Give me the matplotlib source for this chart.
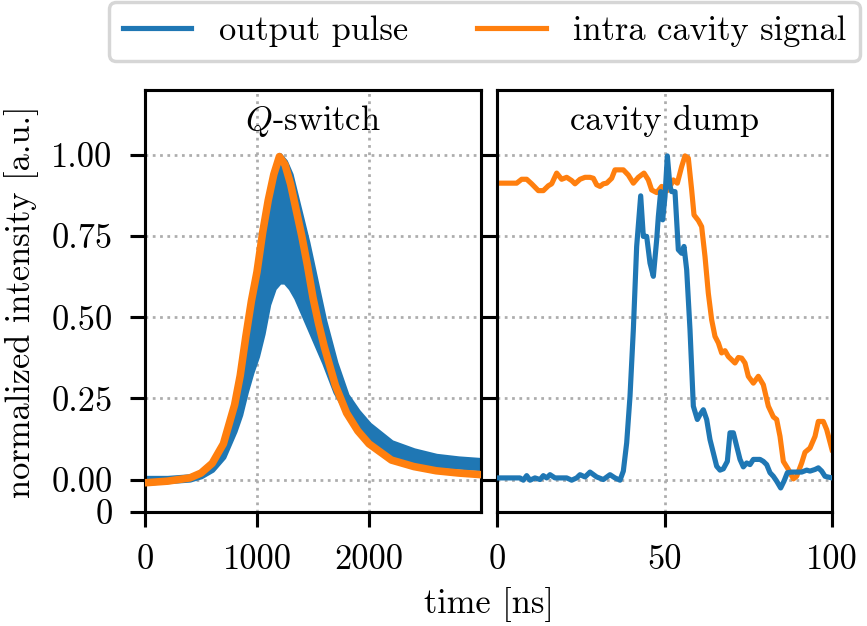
import matplotlib
matplotlib.use("Agg")
import matplotlib.pyplot as plt

# ---------------- data ----------------
# Q-switch panel (time in ns)
t_q = [0, 200, 400, 500, 600, 700, 800, 850, 900, 950, 1000, 1050, 1100, 1150,
       1200, 1250, 1300, 1350, 1400, 1450, 1500, 1550, 1600, 1700, 1800, 1900,
       2000, 2200, 2400, 2600, 2800, 3000]
# output pulse (fast ripple band): upper and lower envelope
q_out_upper = [0.005, 0.005, 0.01, 0.02, 0.04, 0.09, 0.19, 0.27, 0.38, 0.49, 0.60,
               0.73, 0.85, 0.95, 1.00, 0.98, 0.94, 0.87, 0.80, 0.73, 0.65, 0.57,
               0.49, 0.36, 0.26, 0.21, 0.17, 0.115, 0.09, 0.073, 0.065, 0.06]
q_out_lower = [-0.01, -0.005, 0.0, 0.01, 0.03, 0.07, 0.15, 0.20, 0.27, 0.33, 0.38,
               0.45, 0.54, 0.59, 0.61, 0.61, 0.59, 0.56, 0.52, 0.48, 0.44, 0.40,
               0.36, 0.27, 0.21, 0.16, 0.125, 0.075, 0.055, 0.045, 0.04, 0.035]
# intra cavity signal
q_intra = [-0.01, -0.005, 0.005, 0.02, 0.05, 0.11, 0.23, 0.32, 0.44, 0.55, 0.64,
           0.76, 0.86, 0.94, 0.995, 0.97, 0.91, 0.83, 0.75, 0.66, 0.56, 0.48,
           0.41, 0.29, 0.205, 0.15, 0.11, 0.06, 0.04, 0.027, 0.02, 0.015]

# cavity dump panel
t_cd_intra = [0, 5.87, 7.36, 8.86, 10.35, 12.34, 13.83, 15.32, 16.32, 17.81, 19.30,
              20.80, 22.29, 23.28, 24.78, 26.27, 27.76, 28.76, 29.75, 30.75, 31.74,
              32.74, 34.23, 35.22, 37.71, 39.20, 40.70, 42.19, 43.88, 45.17, 46.17,
              47.66, 49.15, 50.15, 51.14, 52.64, 53.83, 55.12, 56.12, 57.11, 58.11,
              58.81, 60.10, 61.09, 62.09, 63.08, 64.08, 65.07, 66.07, 67.06, 68.06,
              69.05, 70.05, 71.04, 72.04, 73.03, 74.03, 75.02, 76.52, 78.01, 79.50,
              81.00, 82.49, 83.48, 84.48, 85.47, 86.97, 88.46, 89.45, 90.95, 91.94,
              93.43, 94.93, 95.92, 97.41, 98.41, 100.0]
cd_intra = [0.913, 0.913, 0.925, 0.925, 0.911, 0.890, 0.890, 0.905, 0.911, 0.944, 0.925,
            0.931, 0.921, 0.911, 0.925, 0.931, 0.931, 0.928, 0.908, 0.903, 0.911,
            0.913, 0.928, 0.954, 0.954, 0.938, 0.913, 0.931, 0.944, 0.923, 0.892,
            0.884, 0.903, 0.887, 0.892, 0.923, 0.913, 0.964, 0.997, 0.990, 0.892,
            0.815, 0.798, 0.779, 0.687, 0.574, 0.492, 0.441, 0.421, 0.390, 0.397,
            0.379, 0.369, 0.359, 0.376, 0.374, 0.359, 0.318, 0.297, 0.318, 0.292,
            0.226, 0.193, 0.185, 0.133, 0.056, 0.031, 0.002, 0.010, 0.051, 0.084,
            0.097, 0.133, 0.179, 0.179, 0.154, 0.092]

t_cd_out = [0, 6.87, 7.86, 8.86, 9.85, 11.34, 12.84, 13.83, 14.83, 15.82, 17.31,
            20.80, 22.29, 23.78, 24.78, 26.27, 27.76, 29.75, 31.74, 33.73, 35.22,
            36.72, 37.71, 38.71, 39.70, 40.70, 41.69, 42.89, 43.68, 44.68, 45.67,
            46.67, 47.66, 48.16, 48.86, 49.45, 50.15, 50.85, 51.64, 52.14, 53.13,
            54.13, 55.12, 55.82, 56.62, 57.61, 58.61, 59.80, 60.60, 61.59, 62.59,
            63.58, 64.58, 65.57, 66.57, 67.56, 68.76, 69.55, 70.55, 71.54, 72.54,
            73.53, 74.53, 75.52, 76.52, 78.51, 79.50, 80.50, 81.49, 82.49, 83.48,
            84.68, 85.67, 86.67, 87.96, 89.45, 90.95, 92.44, 93.43, 94.93, 95.92,
            96.92, 97.91, 100.0]
cd_out = [0.005, 0.005, -0.002, 0.012, -0.002, 0.005, 0.0, 0.012, 0.005, 0.015, 0.005,
          0.005, -0.002, 0.005, 0.015, 0.008, 0.023, 0.008, 0.0, 0.015, 0.005,
          -0.002, 0.026, 0.113, 0.256, 0.462, 0.718, 0.874, 0.749, 0.749, 0.667,
          0.626, 0.738, 0.810, 0.887, 0.800, 0.872, 0.997, 0.903, 0.887, 0.887,
          0.708, 0.697, 0.718, 0.646, 0.462, 0.226, 0.185, 0.200, 0.215, 0.185,
          0.123, 0.082, 0.041, 0.029, 0.033, 0.056, 0.144, 0.144, 0.103, 0.062,
          0.039, 0.051, 0.046, 0.062, 0.062, 0.056, 0.046, 0.021, 0.010, -0.005,
          -0.026, -0.005, 0.021, 0.023, 0.023, 0.023, 0.029, 0.026, 0.031, 0.036,
          0.026, 0.010, 0.005]

series_labels = ["output pulse", "intra cavity signal"]
panel_titles = ["$Q$-switch", "cavity dump"]
ytick_vals = [-0.1, 0.0, 0.25, 0.5, 0.75, 1.0]
ytick_labels = ["0", "0.00", "0.25", "0.50", "0.75", "1.00"]
ytick_vals_r = [0.0, 0.25, 0.5, 0.75, 1.0]
xticks_q = [0, 1000, 2000]
xticks_cd = [0, 50, 100]

# ---------------- style ----------------
plt.rcParams.update({
    "font.family": "serif",
    "font.serif": ["cmr10"],
    "mathtext.fontset": "cm",
    "axes.formatter.use_mathtext": True,
    "axes.unicode_minus": False,
    "font.size": 10,
    "axes.linewidth": 0.9,
})
C_BLUE = "#1f77b4"
C_ORANGE = "#ff7f0e"

W, H = 867, 626
DPI = W / 3.5
fig = plt.figure(figsize=(3.5, H / DPI), dpi=DPI)

def rect(x0, x1, y0, y1):
    return [x0 / W, 1 - y1 / H, (x1 - x0) / W, (y1 - y0) / H]

axL = fig.add_axes(rect(145, 481, 90, 512))
axR = fig.add_axes(rect(497, 832, 90, 512))

for ax in (axL, axR):
    ax.set_ylim(-0.1, 1.2)
    ax.grid(True, ls=":", lw=0.8, color="0.68")
    ax.set_axisbelow(True)
    ax.tick_params(direction="out", length=4.4, width=0.9, pad=5)

# Q-switch panel
axL.fill_between(t_q, q_out_lower, q_out_upper, color=C_BLUE, lw=1.5, zorder=2)
axL.plot(t_q, q_intra, color=C_ORANGE, lw=2.2, zorder=3)
axL.set_xlim(0, 3000)
axL.set_xticks(xticks_q)
axL.set_xticklabels([str(v) for v in xticks_q])
axL.set_yticks(ytick_vals)
axL.set_yticklabels(ytick_labels)
axL.get_ygridlines()[0].set_visible(False)
axL.text(0.5, 0.927, panel_titles[0], transform=axL.transAxes,
         ha="center", va="center")

# cavity dump panel
l2, = axR.plot(t_cd_intra, cd_intra, color=C_ORANGE, lw=1.5, zorder=2)
l1, = axR.plot(t_cd_out, cd_out, color=C_BLUE, lw=1.5, zorder=3)
axR.set_xlim(0, 100)
axR.set_xticks(xticks_cd)
axR.set_xticklabels([str(v) for v in xticks_cd])
axR.set_yticks(ytick_vals_r)
axR.set_yticklabels([])
axR.text(0.5, 0.927, panel_titles[1], transform=axR.transAxes,
         ha="center", va="center")

fig.text(489 / W, 1 - 605 / H, "time [ns]", ha="center", va="center")
fig.text(22 / W, 1 - 302 / H, "normalized intensity [a.u.]", ha="center",
         va="center", rotation=90)

fig.legend([l1, l2], series_labels, loc="upper center", ncol=2,
           bbox_to_anchor=(484.5 / W, 1 - 2 / H), borderaxespad=0,
           frameon=True)

fig.savefig("out.png", dpi=DPI)
